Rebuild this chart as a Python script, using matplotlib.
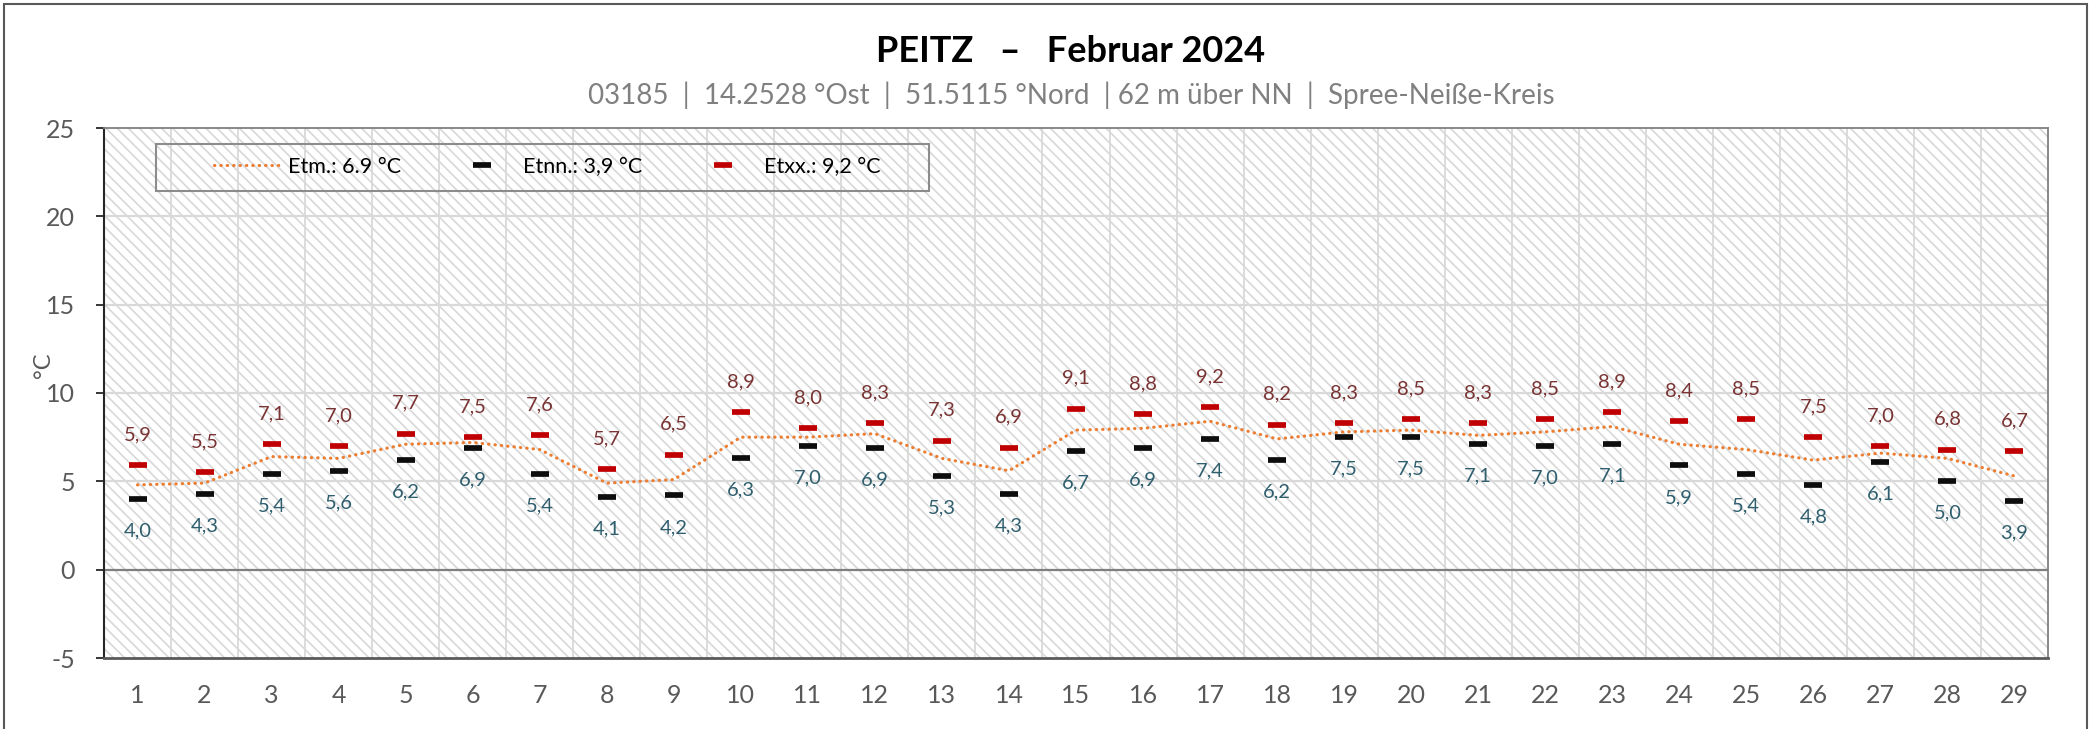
import numpy as np
import matplotlib
matplotlib.use("Agg")
import matplotlib.pyplot as plt
from matplotlib.lines import Line2D
from matplotlib.patches import Rectangle

plt.rcParams['font.family'] = ['Lato', 'DejaVu Sans']
plt.rcParams['axes.unicode_minus'] = False

# Tageswerte Februar 2024, Peitz
tage = list(range(1, 30))
t_min = [4.0, 4.3, 5.4, 5.6, 6.2, 6.9, 5.4, 4.1, 4.2, 6.3,
         7.0, 6.9, 5.3, 4.3, 6.7, 6.9, 7.4, 6.2, 7.5, 7.5,
         7.1, 7.0, 7.1, 5.9, 5.4, 4.8, 6.1, 5.0, 3.9]
t_max = [5.9, 5.5, 7.1, 7.0, 7.7, 7.5, 7.6, 5.7, 6.5, 8.9,
         8.0, 8.3, 7.3, 6.9, 9.1, 8.8, 9.2, 8.2, 8.3, 8.5,
         8.3, 8.5, 8.9, 8.4, 8.5, 7.5, 7.0, 6.8, 6.7]
t_mittel = [4.8, 4.9, 6.4, 6.3, 7.1, 7.2, 6.8, 4.9, 5.1, 7.5,
            7.5, 7.7, 6.3, 5.6, 7.9, 8.0, 8.4, 7.4, 7.8, 7.9,
            7.6, 7.8, 8.1, 7.1, 6.8, 6.2, 6.6, 6.3, 5.3]

legende = ['Etm.: 6.9 °C', 'Etnn.: 3,9 °C', 'Etxx.: 9,2 °C']
titel = 'PEITZ   \u2013   Februar 2024'
untertitel = '03185  |  14.2528 °Ost  |  51.5115 °Nord  | 62 m über NN  |  Spree-Neiße-Kreis'

def de(v):
    return f"{v:.1f}".replace('.', ',')

fig = plt.figure(figsize=(20.95, 7.29), dpi=100)
ax = fig.add_axes([104/2095, 1-658/729, (2048-104)/2095, (658-128)/729])

# schraffierter Hintergrund
ax.set_facecolor('#ffffff')
plt.rcParams['hatch.linewidth'] = 1.2
plt.rcParams['hatch.color'] = '#d8d8d8'
ax.add_patch(Rectangle((0, 0), 1, 1, transform=ax.transAxes, facecolor='none',
                       edgecolor='#d8d8d8', hatch='\\\\\\', linewidth=0, zorder=0))

for y in [5, 10, 15, 20]:
    ax.axhline(y, color='#d9d9d9', lw=1.6, zorder=1)
for x in np.arange(1.5, 29, 1):
    ax.axvline(x, color='#d9d9d9', lw=1.3, zorder=1)
ax.axhline(0, color='#7f7f7f', lw=1.6, zorder=1)

ax.plot(tage, t_mittel, color='#ED7D31', lw=2.3, linestyle=(0, (0.1, 1.9)),
        dash_capstyle='round', zorder=3)
ax.plot(tage, t_min, linestyle='none', marker='_', ms=12.8, mew=4.1,
        color='#0d0d0d', zorder=4)
ax.plot(tage, t_max, linestyle='none', marker='_', ms=12.8, mew=4.1,
        color='#C00000', zorder=4)

for x, lo, hi in zip(tage, t_min, t_max):
    ax.annotate(de(hi), (x, hi), xytext=(0, 22), textcoords='offset points',
                ha='center', va='center', fontsize=14.5, color='#7a3333')
    ax.annotate(de(lo), (x, lo), xytext=(0, -23), textcoords='offset points',
                ha='center', va='center', fontsize=14.5, color='#2f5f6e')

ax.set_xlim(0.5, 29.5)
ax.set_ylim(-5, 25)
ax.set_xticks(tage)
ax.set_xticklabels([str(t) for t in tage])
ax.set_yticks([-5, 0, 5, 10, 15, 20, 25])
ax.tick_params(axis='x', length=0, pad=19, labelsize=18, labelcolor='#595959')
ax.tick_params(axis='y', length=5.8, width=1.3, color='#262626', pad=15,
               labelsize=18, labelcolor='#595959')
ax.set_ylabel('°C', fontsize=17, color='#595959')
ax.yaxis.set_label_coords((54-104)/1944, (658-365)/530)

ax.spines['left'].set_color('#262626')
ax.spines['left'].set_linewidth(1.5)
ax.spines['bottom'].set_color('#595959')
ax.spines['bottom'].set_linewidth(2)
ax.spines['top'].set_color('#808080')
ax.spines['right'].set_color('#808080')
ax.spines['top'].set_linewidth(1.3)
ax.spines['right'].set_linewidth(1.3)

# Legende
handles = [Line2D([], [], color='#ED7D31', lw=2.3, linestyle=(0, (0.1, 1.9)),
                  dash_capstyle='round'),
           Line2D([], [], linestyle='none', marker='_', ms=12.8, mew=4.1, color='#0d0d0d'),
           Line2D([], [], linestyle='none', marker='_', ms=12.8, mew=4.1, color='#C00000')]
leg = ax.legend(handles, legende, loc='upper left', ncol=3, frameon=False,
                bbox_to_anchor=((205-104)/1944, 1-(148-128)/530), borderaxespad=0,
                fontsize=15.5, handlelength=3.1, handletextpad=0.35, columnspacing=2.2)
ax.add_patch(Rectangle(((156-104)/1944, 1-(191-128)/530), (929-156)/1944, 47/530,
                       transform=ax.transAxes, facecolor='none', edgecolor='#8c8c8c',
                       lw=1.5, zorder=5))

fig.text(1071/2095, 1-51/729, titel, ha='center', va='center', fontsize=26,
         fontweight='bold', color='#000000')
fig.text(1071/2095, 1-95/729, untertitel, ha='center', va='center', fontsize=20,
         color='#808080')

fig.patches.append(Rectangle((4/2095, -0.02), (2087-4)/2095, 1.02-4/729,
                             transform=fig.transFigure, facecolor='none',
                             edgecolor='#595959', lw=1.5))

fig.savefig('out.png', dpi=100)
